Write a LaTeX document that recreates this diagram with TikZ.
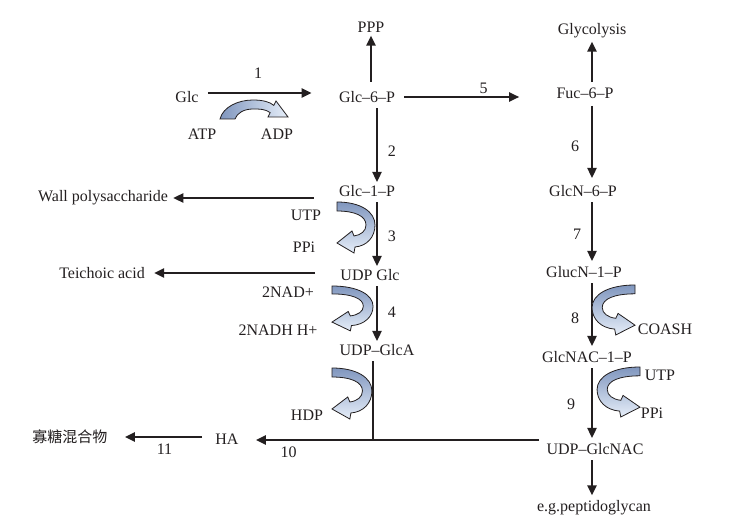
\documentclass[tikz,border=0pt]{standalone}
\usepackage{fontspec}
\setmainfont{Liberation Serif}
\newfontfamily\cjkfont{Noto Sans CJK SC}
\usepackage{xcolor}
\usepackage{tikz}
\usetikzlibrary{arrows.meta,positioning,calc}

\definecolor{ink}{RGB}{35,31,32}
\definecolor{benddark}{RGB}{128,150,190}
\definecolor{bendlight}{RGB}{230,238,249}

% curved block arrows (co-substrate in / out)
\tikzset{
  bend/.pic={
    \path[draw=ink, line width=0.4pt, top color=benddark, bottom color=bendlight]
      (0,0) .. controls (24,0) and (38,-10) .. (38,-23)
            .. controls (38,-35) and (30,-44) .. (18,-45)
      -- (17,-51) -- (0,-41) -- (15,-29) -- (17,-34)
      .. controls (24,-33) and (29,-29) .. (29,-23)
      .. controls (29,-14) and (18,-9) .. (0,-9) -- cycle;
  },
  arch/.pic={
    \path[draw=ink, line width=0.4pt, left color=benddark, right color=bendlight]
      (0,0) .. controls (3,12) and (18,19) .. (33,19)
            .. controls (43,19) and (50,17) .. (53.8,13.6)
      -- (56,18) -- (68,2) -- (48,2) -- (50.2,6.4)
      .. controls (45,10) and (40,10) .. (33,10)
      .. controls (24,10) and (17,6) .. (15,0) -- cycle;
  }
}

\begin{document}
\begin{tikzpicture}[x=0.5pt, y=0.5pt,
        lbl/.style={font=\fontsize{8}{9.6}\selectfont, text=ink, inner sep=1.5pt},
        num/.style={font=\fontsize{8}{9.6}\selectfont, text=ink, inner sep=0pt},
        arr/.style={-{Triangle[length=5pt,width=4.6pt]}, line width=0.9pt, draw=ink},
        plain/.style={line width=0.6pt, draw=ink}
    ]

    \fill[white] (0,0) rectangle (745,-529);
    \useasboundingbox (0,0) rectangle (745,-529);

    % Glucose branch
    \node[lbl] (ppp) at (371,-27) {PPP};
    \node[lbl] (glc) at (187,-97) {Glc};
    \node[lbl] (g6p) at (367,-97) {Glc--6--P};
    \node[lbl] (atp) at (202,-134) {ATP};
    \node[lbl] (adp) at (277,-134) {ADP};
    \node[lbl] (g1p) at (367,-191) {Glc--1--P};
    \node[lbl] (wall) at (103,-198) {Wall polysaccharide};
    \node[lbl] (utpa) at (306,-215) {UTP};
    \node[lbl] (ppia) at (304,-247) {PPi};
    \node[lbl] (udpglc) at (370,-275) {UDP Glc};
    \node[lbl] (teich) at (102,-273) {Teichoic acid};
    \node[lbl] (nad) at (288,-292) {2NAD+};
    \node[lbl] (nadh) at (278,-330) {2NADH H+};
    \node[lbl] (udpglca) at (377,-350) {UDP--GlcA};
    \node[lbl] (hdp) at (307,-415) {HDP};
    \node[lbl] (ha) at (227,-439) {HA};
    \node[lbl] (oligo) at (70,-437) {\cjkfont\fontsize{7.5}{9}\selectfont 寡糖混合物};

    % Glucosamine branch
    \node[lbl] (glyc) at (592,-31) {Glycolysis};
    \node[lbl] (f6p) at (585,-93) {Fuc--6--P};
    \node[lbl] (gn6p) at (583,-191) {GlcN--6--P};
    \node[lbl] (gn1p) at (584,-272) {GlucN--1--P};
    \node[lbl] (coash) at (665,-329) {COASH};
    \node[lbl] (gnac1p) at (587,-357) {GlcNAC--1--P};
    \node[lbl] (utpb) at (660,-375) {UTP};
    \node[lbl] (ppib) at (652,-413) {PPi};
    \node[lbl] (udpgnac) at (595,-449) {UDP--GlcNAC};
    \node[lbl] (pept) at (594,-508) {e.g.peptidoglycan};

    \coordinate (jn) at (373,-440);

    % Arrows - glucose column
    \draw[arr, shorten <=3pt, shorten >=12pt] ([yshift=2pt]glc.east) -- node[num, above=7pt, pos=0.42] {1} ([yshift=2pt]glc.east -| g6p.west);
    \draw[arr, shorten <=3pt] (ppp.south |- g6p.north) -- (ppp.south);
    \draw[arr, shorten <=3pt, shorten >=17pt] (g6p.east) -- node[num, above=1pt, pos=0.55] {5} (g6p.east -| f6p.west);
    \draw[arr, shorten <=1pt] (g6p.south -| udpglca.north) -- node[num, right=5pt, pos=0.59] {2} (g1p.north -| udpglca.north);
    \draw[arr, shorten <=11pt, shorten >=1pt] (g1p.west |- wall.east) -- (wall.east);
    \draw[arr, shorten <=1pt] (g1p.south -| udpglca.north) -- node[num, right=5pt, pos=0.55] {3} (udpglc.north -| udpglca.north);
    \draw[arr, shorten <=11pt, shorten >=3pt] (udpglc.west |- teich.east) -- (teich.east);
    \draw[arr, shorten <=1pt] (udpglc.south -| udpglca.north) -- node[num, right=5pt, pos=0.5] {4} (udpglca.north);
    \draw[plain, shorten <=1pt] (udpglca.south -| jn) -- (jn);
    \draw[arr, shorten <=2pt, shorten >=7pt] (udpgnac.west |- jn) -- node[num, below=3pt, pos=0.845] {10} (ha.east |- jn);
    \draw[arr, shorten <=5pt, shorten >=7pt] ([yshift=1pt]ha.west) -- node[num, below=3pt, pos=0.47] {11} ([yshift=1pt]ha.west -| oligo.east);

    % Arrows - glucosamine column
    \draw[arr, shorten <=1pt] (glyc.south |- f6p.north) -- (glyc.south);
    \draw[arr, shorten <=2pt, shorten >=2pt] (glyc.south |- f6p.south) -- node[num, left=6pt, pos=0.55] {6} (glyc.south |- gn6p.north);
    \draw[arr, shorten <=1pt, shorten >=1pt] (glyc.south |- gn6p.south) -- node[num, left=5pt, pos=0.55] {7} (glyc.south |- gn1p.north);
    \draw[arr, shorten <=1pt, shorten >=1pt] (glyc.south |- gn1p.south) -- node[num, left=6pt, pos=0.55] {8} (glyc.south |- gnac1p.north);
    \draw[arr, shorten <=1pt, shorten >=1pt] (glyc.south |- gnac1p.south) -- node[num, left=8pt, pos=0.52] {9} (glyc.south |- udpgnac.north);
    \draw[arr, shorten <=1pt, shorten >=1pt] (glyc.south |- udpgnac.south) -- (glyc.south |- pept.north);

    % Co-substrate arrows
    \pic at (220,-119) {arch};
    \pic at (337,-202) {bend};
    \pic[xscale=1.08, yscale=0.88] at (332,-286) {bend};
    \pic[xscale=1.05] at (332,-368) {bend};
    \pic[xscale=-1.13, yscale=0.98] at (635,-285) {bend};
    \pic[xscale=-1.13, yscale=0.98] at (640,-367) {bend};

\end{tikzpicture}
\end{document}
